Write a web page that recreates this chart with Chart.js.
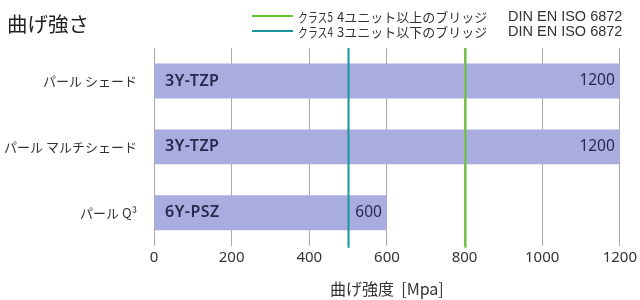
<!DOCTYPE html>
<html lang="ja">
<head>
  <meta charset="UTF-8" />
  <title>曲げ強さ</title>
  <script src="https://cdn.jsdelivr.net/npm/chart.js"></script>
  <style>
    body { margin: 0; background: #fff; font-family: "Noto Sans CJK JP", "Noto Sans", sans-serif; }
    #wrap { position: relative; width: 640px; height: 300px; }
    #title {
      position: absolute; left: 7px; top: 8px;
      font-size: 20.5px; color: #222;
    }
    .lg {
      position: absolute; font-size: 13px; color: #333; white-space: pre;
      line-height: 15px; transform: translateY(-50%);
    }
    .cls { transform: translateY(-50%) scaleX(0.76); transform-origin: left center; }
    .lat { font-family: "Liberation Sans", Arial, sans-serif; font-size: 14.5px; }
    .swatch { position: absolute; left: 252px; width: 41px; height: 2px; }
  </style>
</head>
<body>
<div id="wrap">
  <div id="title">曲げ強さ</div>
  <div id="legend"></div>
  <canvas id="chart" width="640" height="300"></canvas>
</div>

<script>
  // data
  const categories = ['パール シェード', 'パール マルチシェード', 'パール Q³'];
  const strength = [1200, 1200, 600];
  const materials = ['3Y-TZP', '3Y-TZP', '6Y-PSZ'];
  const xTicks = [0, 200, 400, 600, 800, 1000, 1200];

  const refValues = [800, 500];
  const refColors = ['#66c22e', '#17979c'];
  const refClass = ['クラス5', 'クラス4'];
  const refDesc = ['4ユニット以上のブリッジ', '3ユニット以下のブリッジ'];
  const refNorm = 'DIN EN ISO 6872';

  // legend (two rows, top right)
  const legend = document.getElementById('legend');
  const rowY = [16, 31];
  refClass.forEach((c, i) => {
    const y = rowY[i];
    legend.insertAdjacentHTML('beforeend',
      '<span class="swatch" style="top:' + (y - 1) + 'px;background:' + refColors[i] + '"></span>' +
      '<span class="lg cls" style="left:298px;top:' + y + 'px">' + c + '</span>' +
      '<span class="lg" style="left:337px;top:' + y + 'px">' + refDesc[i] + '</span>' +
      '<span class="lg lat" style="left:508px;top:' + y + 'px">' + refNorm + '</span>');
  });

  const fontFam = '"Noto Sans", "Noto Sans CJK JP", sans-serif';

  // reference lines + labels inside bars
  const overlay = {
    id: 'overlay',
    afterDatasetsDraw(chart) {
      const ctx = chart.ctx;
      const x = chart.scales.x;
      const area = chart.chartArea;
      const bars = chart.getDatasetMeta(0).data;

      ctx.save();
      ctx.fillStyle = '#262a4d';
      ctx.textBaseline = 'middle';
      bars.forEach((bar, i) => {
        ctx.font = '600 16px ' + fontFam;
        ctx.letterSpacing = '0.5px';
        ctx.textAlign = 'left';
        ctx.fillText(materials[i], x.getPixelForValue(0) + 11, bar.y);
        ctx.letterSpacing = '0px';
        ctx.textAlign = 'right';
        ctx.font = '15.5px ' + fontFam;
        ctx.fillText(String(strength[i]), bar.x - 5, bar.y);
      });

      refValues.forEach((v, i) => {
        const px = Math.round(x.getPixelForValue(v)) + 0.5;
        ctx.strokeStyle = refColors[i];
        ctx.lineWidth = 2;
        ctx.beginPath();
        ctx.moveTo(px, area.top);
        ctx.lineTo(px, area.bottom + 2);
        ctx.stroke();
      });
      ctx.restore();
    }
  };

  new Chart(document.getElementById('chart'), {
    type: 'bar',
    data: {
      labels: categories,
      datasets: [{
        data: strength,
        backgroundColor: '#a8acdf',
        borderWidth: 0,
        categoryPercentage: 1,
        barPercentage: 0.53
      }]
    },
    options: {
      indexAxis: 'y',
      responsive: false,
      animation: false,
      layout: { padding: { top: 48, right: 20, left: 0, bottom: 1 } },
      plugins: { legend: { display: false }, tooltip: { enabled: false } },
      scales: {
        x: {
          min: 0, max: 1200,
          afterBuildTicks(scale) { scale.ticks = xTicks.map(v => ({ value: v })); },
          grid: { color: '#aaaaaa', lineWidth: 1, drawTicks: false },
          border: { display: false },
          ticks: {
            color: '#333', padding: 3, maxRotation: 0,
            font: { family: fontFam, size: 15 },
            callback: v => String(v)
          },
          title: {
            display: true, text: '曲げ強度  [Mpa]', color: '#333', padding: { top: 10, bottom: 0 },
            font: { family: '"Noto Sans CJK JP", sans-serif', size: 16 }
          }
        },
        y: {
          afterFit(scale) { scale.width = 154; },
          grid: { display: false },
          border: { display: false },
          ticks: { color: '#333', padding: 9, font: { family: '"Noto Sans CJK JP", sans-serif', size: 13 } }
        }
      }
    },
    plugins: [overlay]
  });
</script>
</body>
</html>
